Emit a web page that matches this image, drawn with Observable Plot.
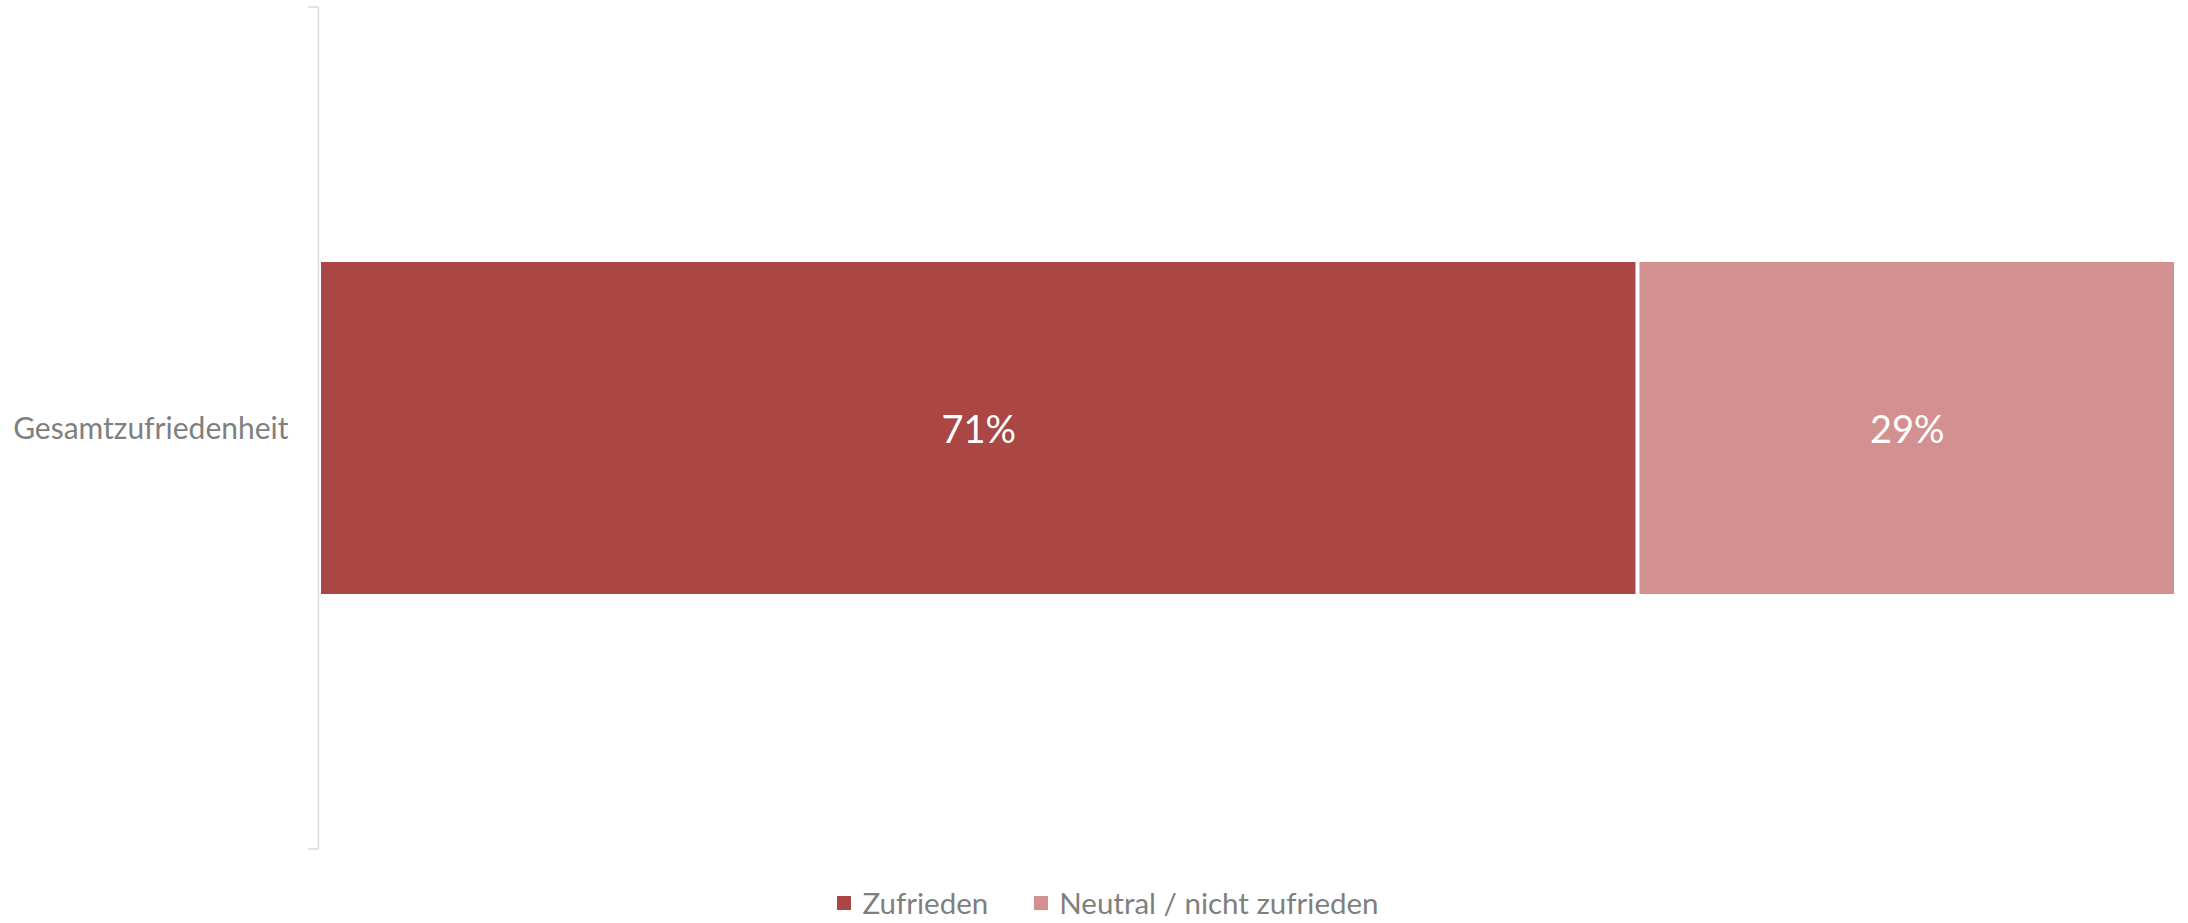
<!DOCTYPE html>
<html>
<head>
<meta charset="utf-8">
<script src="https://cdn.jsdelivr.net/npm/d3@7"></script>
<script src="https://cdn.jsdelivr.net/npm/@observablehq/plot@0.6"></script>
<style>
  html, body { margin: 0; padding: 0; background: #fff; }
  #chart { width: 2188px; }
  .legend { display: flex; justify-content: center; align-items: center; width: 2188px; height: 53px; padding-top: 12px; padding-left: 28px; box-sizing: border-box; font-family: Lato, "Liberation Sans", sans-serif; font-size: 29.5px; color: #7f7f7f; }
  .legend .item { display: flex; align-items: center; margin: 0 23px; }
  .legend .sw { width: 14px; height: 14px; margin-right: 11px; }
</style>
</head>
<body>
<div id="chart"></div>
<script>
const categories = ["Gesamtzufriedenheit"];
const seriesNames = ["Zufrieden", "Neutral / nicht zufrieden"];
const seriesValues = [71, 29];
const seriesColors = ["#AA4644", "#D29190"];

const data = seriesNames.map((s, i) => ({category: categories[0], series: s, value: seriesValues[i]}));

const W = 2188, H = 870;
const plot = Plot.plot({
  width: W,
  height: H,
  marginLeft: 319,
  marginRight: 12,
  marginTop: 7,
  marginBottom: H - 849,
  style: {fontFamily: "Lato, 'Liberation Sans', sans-serif", background: "#fff"},
  x: {domain: [0, 100], axis: null},
  y: {domain: categories, padding: 0.4343, label: null},
  color: {domain: seriesNames, range: seriesColors},
  marks: [
    Plot.barX(data, Plot.stackX({x: "value", y: "category", fill: "series", insetLeft: 2, insetRight: 2, order: seriesNames})),
    Plot.text(data, Plot.stackX({x: "value", y: "category", z: "series", order: seriesNames, text: d => d.value + "%", fill: "#fff", fontSize: 38, dy: 2})),
    Plot.ruleX([0], {stroke: "#d9d9d9", strokeWidth: 1.5, dx: -1}),
    Plot.axisY({tickSize: 0, tickPadding: 31, fontSize: 30, fill: "#7f7f7f", label: null, dy: 1})
  ]
});
document.getElementById("chart").appendChild(plot);

// Excel-style end ticks on the category axis
const yr = plot.scale("y").range;
const svg = d3.select(plot);
[yr[0], yr[1]].forEach(yy => {
  svg.append("line").attr("x1", 308).attr("x2", 318).attr("y1", yy).attr("y2", yy)
    .attr("stroke", "#d9d9d9").attr("stroke-width", 1.5);
});

const legend = document.createElement("div");
legend.className = "legend";
seriesNames.forEach((s, i) => {
  const item = document.createElement("div");
  item.className = "item";
  const sw = document.createElement("span");
  sw.className = "sw";
  sw.style.background = seriesColors[i];
  const t = document.createElement("span");
  t.textContent = s;
  item.appendChild(sw); item.appendChild(t);
  legend.appendChild(item);
});
document.body.appendChild(legend);
</script>
</body>
</html>
